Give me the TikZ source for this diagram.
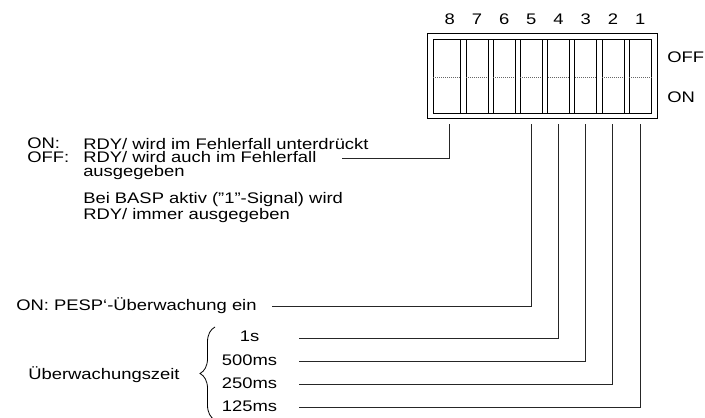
\documentclass[tikz,border=0pt]{standalone}
\usepackage{fontspec}
\setmainfont{Liberation Sans}[FakeStretch=1.2]
\usetikzlibrary{decorations.pathreplacing}
\tikzset{
  lead/.style={draw=black!85, line width=0.75pt},
  lbl/.style={inner sep=0pt, anchor=base west, font=\fontsize{11.5}{13}\selectfont},
  note/.style={inner sep=0pt, anchor=north west, align=left, font=\fontsize{11.5}{10.1}\selectfont},
  num/.style={inner sep=0pt, anchor=base, font=\fontsize{11.5}{13}\selectfont},
}
\begin{document}
\begin{tikzpicture}[x=0.75pt,y=-0.75pt]
\useasboundingbox (0,0) rectangle (705,417);

% DIP switch block
\draw[line width=0.75pt] (427.3,34) rectangle (657.7,119);
\draw[line width=0.75pt] (433.3,40) rectangle (651.7,114);
\foreach \k in {0,...,6} {
  \draw[line width=0.6pt] (460.7+27.2*\k,40) -- (460.7+27.2*\k,114);
  \draw[line width=0.6pt] (466+27.2*\k,40) -- (466+27.2*\k,114);
}
\draw[black!60, line width=0.5pt, densely dotted] (433.3,77.3) -- (460.7,77.3);
\draw[black!60, line width=0.5pt, densely dotted] (629.2,77.3) -- (651.7,77.3);
\foreach \k in {1,...,6}
  \draw[black!60, line width=0.5pt, densely dotted] (466+27.2*\k-27.2,77.3) -- (460.7+27.2*\k,77.3);

% switch numbers and lead-out points
\foreach \n [count=\i from 0] in {8,...,1} {
  \node[num] (n\n) at (449.75+27.2*\i,25) {\n};
  \coordinate (s\n) at (449.75+27.2*\i,124);
}
\node[lbl] (off) at (667,62.5) {OFF};
\node[lbl] (on) at (667,102.5) {ON};

% switch 8
\node[note] (onoff) at (27,138) {ON:\\OFF:};
\node[note] (rdy) at (83,138) {RDY/ wird im Fehlerfall unterdrückt\\RDY/ wird auch im Fehlerfall\\ausgegeben};
\node[note] (basp) at (83,192) {Bei BASP aktiv (”1”-Signal) wird\\RDY/ immer ausgegeben};
\coordinate (e8) at (341.7,158);

% switch 5
\node[lbl] (pesp) at (16,310) {ON: PESP‘-Überwachung ein};
\coordinate (e5) at (271.7,306.7);

% switches 4 to 1
\node[lbl, anchor=base] (t1s) at (249.5,341) {1s};
\node[lbl, anchor=base] (t500) at (249.5,365) {500ms};
\node[lbl, anchor=base] (t250) at (249.5,388) {250ms};
\node[lbl, anchor=base] (t125) at (249.5,411) {125ms};
\coordinate (e4) at (299.3,338.3);
\coordinate (e3) at (299.3,361);
\coordinate (e2) at (299.3,384);
\coordinate (e1) at (299.3,407);
\node[lbl] (zeit) at (28,379) {Überwachungszeit};
\draw[line width=0.6pt, decorate, decoration={brace, amplitude=11.25pt}] (215,420) -- (215,327);

\draw[lead] (s8) |- (e8);
\draw[lead] (s5) |- (e5);
\draw[lead] (s4) |- (e4);
\draw[lead] (s3) |- (e3);
\draw[lead] (s2) |- (e2);
\draw[lead] (s1) |- (e1);
\end{tikzpicture}
\end{document}
